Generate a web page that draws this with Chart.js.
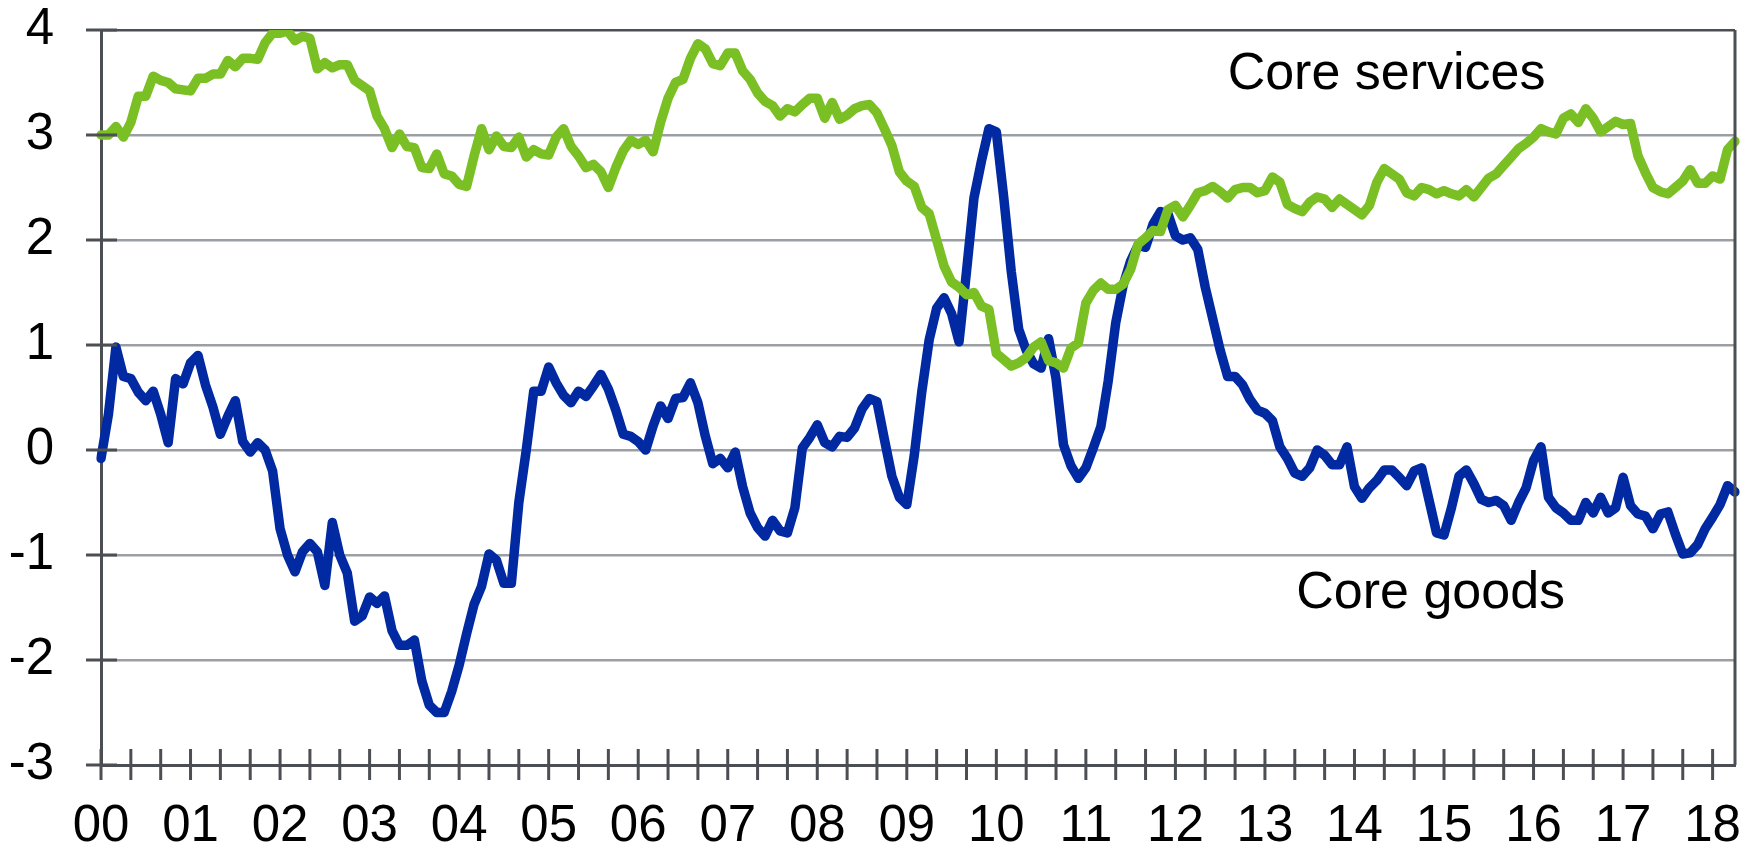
<!DOCTYPE html>
<html>
<head>
<meta charset="utf-8">
<script src="https://cdn.jsdelivr.net/npm/chart.js@4.4.0/dist/chart.umd.min.js"></script>
<style>
  html, body { margin: 0; padding: 0; background: #fff; }
</style>
</head>
<body>
<canvas id="grafik" width="1758" height="851"></canvas>
<script>
// tick labels for the years, data is monthly from Jan 2000 to Apr 2018
const tahunLabel = ['00', '01', '02', '03', '04', '05', '06', '07', '08', '09',
                    '10', '11', '12', '13', '14', '15', '16', '17', '18'];
const jumlahBulan = 220;
const yTicks = [-3, -2, -1, 0, 1, 2, 3, 4];

const coreServices = [
  3.0, 3.0, 3.08, 2.98, 3.12, 3.37, 3.37, 3.56, 3.52, 3.50, 3.44, 3.43,
  3.42, 3.54, 3.54, 3.58, 3.58, 3.71, 3.65, 3.73, 3.73, 3.72, 3.88, 3.97,
  3.97, 3.99, 3.90, 3.94, 3.92, 3.63, 3.69, 3.64, 3.67, 3.67, 3.52, 3.47,
  3.42, 3.18, 3.06, 2.88, 3.01, 2.89, 2.88, 2.69, 2.68, 2.82, 2.63, 2.61,
  2.53, 2.51, 2.80, 3.06, 2.86, 2.99, 2.89, 2.88, 2.98, 2.79, 2.86, 2.82,
  2.81, 2.98, 3.06, 2.89, 2.80, 2.69, 2.72, 2.65, 2.50, 2.69, 2.85, 2.95,
  2.91, 2.95, 2.84, 3.12, 3.35, 3.50, 3.53, 3.73, 3.87, 3.82, 3.68, 3.66,
  3.78, 3.78, 3.61, 3.53, 3.40, 3.32, 3.28, 3.18, 3.25, 3.22, 3.29, 3.35,
  3.35, 3.16, 3.31, 3.15, 3.19, 3.25, 3.28, 3.29, 3.21, 3.06, 2.90, 2.65,
  2.56, 2.51, 2.31, 2.25, 2.0, 1.75, 1.60, 1.55, 1.48, 1.50, 1.37, 1.34,
  0.92, 0.86, 0.80, 0.83, 0.88, 0.98, 1.03, 0.85, 0.83, 0.78, 0.97, 1.02,
  1.40, 1.52, 1.59, 1.53, 1.53, 1.58, 1.72, 1.96, 2.02, 2.09, 2.08, 2.29,
  2.33, 2.22, 2.33, 2.45, 2.47, 2.51, 2.46, 2.40, 2.48, 2.50, 2.50, 2.45,
  2.47, 2.60, 2.55, 2.34, 2.30, 2.27, 2.36, 2.41, 2.39, 2.31, 2.39, 2.34,
  2.29, 2.24, 2.33, 2.55, 2.68, 2.63, 2.58, 2.45, 2.42, 2.50, 2.48, 2.44,
  2.47, 2.44, 2.42, 2.48, 2.41, 2.50, 2.59, 2.63, 2.71, 2.79, 2.87, 2.92,
  2.98, 3.06, 3.03, 3.01, 3.16, 3.20, 3.12, 3.25, 3.16, 3.03, 3.08, 3.13,
  3.10, 3.11, 2.80, 2.64, 2.50, 2.46, 2.44, 2.50, 2.56, 2.67, 2.54, 2.54,
  2.61, 2.58, 2.86, 2.94
];

const coreGoods = [
  -0.08, 0.34, 0.98, 0.70, 0.68, 0.55, 0.47, 0.56, 0.34, 0.07, 0.68, 0.63,
  0.83, 0.90, 0.62, 0.41, 0.15, 0.32, 0.47, 0.08, -0.02, 0.07, 0.0, -0.2,
  -0.75, -1.0, -1.16, -0.97, -0.89, -0.97, -1.29, -0.69, -1.0, -1.17, -1.63, -1.58,
  -1.40, -1.46, -1.39, -1.72, -1.86, -1.86, -1.81, -2.2, -2.43, -2.5, -2.5, -2.3,
  -2.05, -1.75, -1.47, -1.3, -0.99, -1.05, -1.27, -1.27, -0.5, 0.0, 0.56, 0.56,
  0.79, 0.64, 0.52, 0.45, 0.56, 0.51, 0.61, 0.72, 0.58, 0.38, 0.15, 0.13,
  0.08, 0.0, 0.23, 0.42, 0.30, 0.49, 0.50, 0.64, 0.45, 0.13, -0.13, -0.08,
  -0.17, -0.02, -0.35, -0.6, -0.74, -0.82, -0.67, -0.77, -0.79, -0.55, 0.02, 0.12,
  0.24, 0.07, 0.03, 0.13, 0.12, 0.21, 0.39, 0.49, 0.46, 0.1, -0.25, -0.45,
  -0.52, -0.05, 0.55, 1.05, 1.35, 1.45, 1.30, 1.03, 1.7, 2.4, 2.75, 3.06,
  3.03, 2.4, 1.7, 1.15, 0.95, 0.82, 0.78, 1.06, 0.68, 0.05, -0.15, -0.27,
  -0.17, 0.02, 0.22, 0.66, 1.21, 1.57, 1.8, 1.95, 1.93, 2.15, 2.27, 2.25,
  2.04, 2.0, 2.02, 1.91, 1.55, 1.25, 0.95, 0.70, 0.70, 0.62, 0.48, 0.38,
  0.35, 0.28, 0.03, -0.08, -0.22, -0.25, -0.17, 0.0, -0.05, -0.14, -0.14, 0.03,
  -0.35, -0.46, -0.36, -0.29, -0.19, -0.19, -0.26, -0.34, -0.20, -0.17, -0.48, -0.79,
  -0.81, -0.55, -0.25, -0.19, -0.32, -0.47, -0.50, -0.48, -0.53, -0.67, -0.50, -0.36,
  -0.10, 0.03, -0.45, -0.55, -0.60, -0.67, -0.67, -0.50, -0.60, -0.45, -0.60, -0.55,
  -0.26, -0.53, -0.61, -0.63, -0.75, -0.61, -0.59, -0.80, -0.99, -0.98, -0.90, -0.75,
  -0.64, -0.52, -0.34, -0.40
];

// month categories, e.g. "00-1"
const bulan = [];
for (let i = 0; i < jumlahBulan; i++) {
  bulan.push(tahunLabel[Math.floor(i / 12)] + '-' + (i % 12 + 1));
}

const warnaSumbu = '#4b4e53';
const warnaGrid = '#9b9fa4';

// tick marks crossing the axes, right border and the series names
const hiasan = {
  id: 'hiasan',
  afterDraw(chart) {
    const c = chart.ctx;
    const area = chart.chartArea;
    const x = chart.scales.x;
    const y = chart.scales.y;
    c.save();
    c.strokeStyle = warnaSumbu;
    c.lineWidth = 3;
    c.beginPath();
    for (let i = 0; i < jumlahBulan; i += 4) {
      const px = x.getPixelForValue(i);
      c.moveTo(px, area.bottom - 16);
      c.lineTo(px, area.bottom + 15);
    }
    yTicks.forEach(v => {
      const py = y.getPixelForValue(v);
      c.moveTo(area.left - 15, py);
      c.lineTo(area.left + 16, py);
    });
    c.moveTo(area.right, area.top);
    c.lineTo(area.right, area.bottom);
    c.stroke();

    c.fillStyle = '#000';
    c.font = '52px "Liberation Sans", Arial, sans-serif';
    c.textAlign = 'left';
    c.textBaseline = 'alphabetic';
    c.fillText('Core services', x.getPixelForValue(151), y.getPixelForValue(3.44));
    c.fillText('Core goods', x.getPixelForValue(160.2), y.getPixelForValue(-1.505));
    c.restore();
  }
};

const ctx = document.getElementById('grafik').getContext('2d');
const chart = new Chart(ctx, {
  type: 'line',
  data: {
    labels: bulan,
    datasets: [{
      label: 'Core services',
      data: coreServices,
      borderColor: '#7abf24',
      borderWidth: 9.5,
      pointRadius: 0,
      tension: 0,
      borderJoinStyle: 'round',
      borderCapStyle: 'round'
    }, {
      label: 'Core goods',
      data: coreGoods,
      borderColor: '#0029a2',
      borderWidth: 9.5,
      pointRadius: 0,
      tension: 0,
      borderJoinStyle: 'round',
      borderCapStyle: 'round'
    }]
  },
  options: {
    responsive: false,
    animation: false,
    devicePixelRatio: 1,
    layout: { padding: { top: 30, right: 23, left: 0, bottom: 0 } },
    plugins: {
      legend: { display: false },
      tooltip: { enabled: false }
    },
    scales: {
      x: {
        type: 'category',
        offset: false,
        grid: { display: false, drawTicks: false },
        border: { display: true, color: warnaSumbu, width: 3 },
        ticks: {
          autoSkip: false,
          maxRotation: 0,
          minRotation: 0,
          padding: 31,
          color: '#000',
          font: { family: '"Liberation Sans", Arial, sans-serif', size: 51 },
          callback: function (value, index) {
            return index % 12 === 0 ? tahunLabel[index / 12] : '';
          }
        },
        afterFit: function (scale) {
          scale.height = 86;
          scale.paddingLeft = 0;
          scale.paddingRight = 0;
        }
      },
      y: {
        min: -3,
        max: 4,
        grid: {
          drawTicks: false,
          lineWidth: 2.5,
          color: c => (c.tick && c.tick.value === 4) ? warnaSumbu : warnaGrid
        },
        border: { display: true, color: warnaSumbu, width: 3 },
        ticks: {
          stepSize: 1,
          padding: 47,
          color: '#000',
          font: { family: '"Liberation Sans", Arial, sans-serif', size: 51 }
        },
        afterFit: function (scale) {
          scale.width = 101;
          scale.paddingTop = 0;
          scale.paddingBottom = 0;
        }
      }
    }
  },
  plugins: [hiasan]
});
</script>
</body>
</html>
